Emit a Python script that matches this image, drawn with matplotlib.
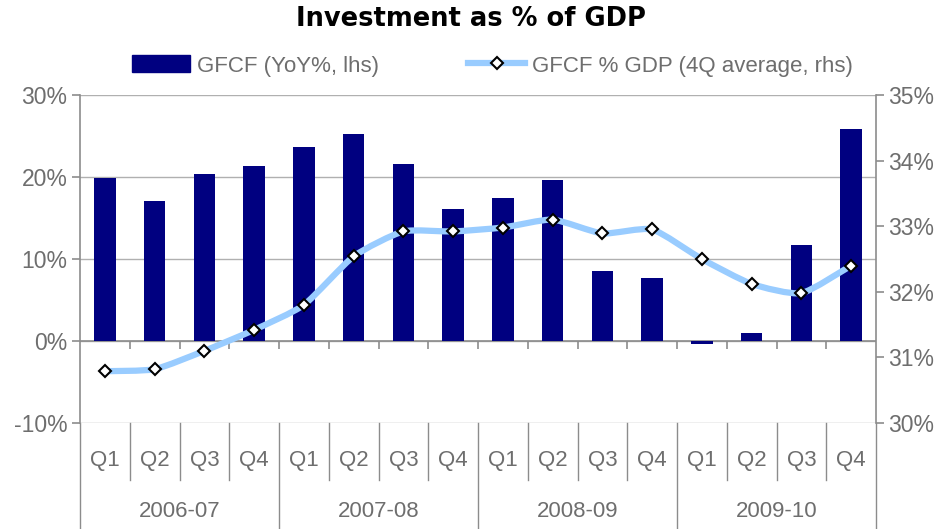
import matplotlib
matplotlib.use("Agg")
import matplotlib.pyplot as plt
from matplotlib.lines import Line2D
from matplotlib.patches import Patch, PathPatch
from matplotlib.path import Path
from matplotlib.ticker import FuncFormatter

quarters = ["Q1", "Q2", "Q3", "Q4"] * 4
years = ["2006-07", "2007-08", "2008-09", "2009-10"]
gfcf_yoy = [19.9, 17.1, 20.4, 21.4, 23.6, 25.3, 21.6, 16.1,
            17.4, 19.6, 8.5, 7.7, -0.4, 1.0, 11.7, 25.8]
gfcf_gdp = [30.79, 30.82, 31.10, 31.42, 31.80, 32.54, 32.92, 32.92,
            32.98, 33.10, 32.89, 32.95, 32.50, 32.12, 31.98, 32.40]

NAVY = "#000080"
LINE = "#99CCFF"
GREY_TXT = "#6e6e6e"
GREY_AX = "#8c8c8c"

plt.rcParams["font.family"] = ["Liberation Sans", "DejaVu Sans"]

fig = plt.figure(figsize=(9.42, 5.29), dpi=100)
ax = fig.add_axes([80 / 942, 1 - 423 / 529, 796 / 942, 328 / 529])
ax2 = ax.twinx()

n = len(gfcf_yoy)
xs = list(range(n))
ax.bar(xs, gfcf_yoy, width=0.43, color=NAVY, zorder=3)
ax.set_xlim(-0.5, n - 0.5)
ax.set_ylim(-10, 30)
ax.set_yticks([-10, 0, 10, 20, 30])
ax.yaxis.set_major_formatter(FuncFormatter(lambda v, _: f"{v:.0f}%"))
ax.grid(axis="y", color="#b0b0b0", lw=1.0, zorder=0)
ax.set_axisbelow(True)
ax.axhline(0, color=GREY_AX, lw=1.2, zorder=2)

# boundary ticks under the 0% line
bounds = [i - 0.5 for i in range(n + 1)]
ax.vlines(bounds[1:-1], -1.0, 0, color=GREY_AX, lw=1.2, zorder=2)

# two-level category labels below the plot
ax.set_xticks([])
xt = ax.get_xaxis_transform()
for i, b in enumerate(bounds):
    bottom = -0.33 if i % 4 == 0 else -0.175
    ax.plot([b, b], [0, bottom], transform=xt, color=GREY_AX, lw=1.0,
            clip_on=False)
for x, q in zip(xs, quarters):
    ax.text(x, -0.113, q, transform=xt, ha="center", va="center",
            fontsize=16, color=GREY_TXT)
for k, yr in enumerate(years):
    ax.text(4 * k + 1.5, -0.271, yr, transform=xt, ha="center", va="center",
            fontsize=16, color=GREY_TXT)

for side in ("top", "bottom"):
    ax.spines[side].set_visible(False)
    ax2.spines[side].set_visible(False)
for a, side in ((ax, "left"), (ax2, "right")):
    a.spines[side].set_color(GREY_AX)
    a.spines[side].set_linewidth(1.2)
ax.spines["right"].set_visible(False)
ax2.spines["left"].set_visible(False)
ax.tick_params(axis="y", length=6, width=1.2, color=GREY_AX, pad=3,
               labelsize=16.5, labelcolor=GREY_TXT)

ax2.set_ylim(30, 35)
ax2.set_yticks([30, 31, 32, 33, 34, 35])
ax2.yaxis.set_major_formatter(FuncFormatter(lambda v, _: f"{v:.0f}%"))
ax2.tick_params(axis="y", length=6, width=1.2, color=GREY_AX, pad=3,
                labelsize=16.5, labelcolor=GREY_TXT)

# gently smoothed line through the points (cubic Bezier segments)
tension = 1 / 10
pts = list(zip(xs, gfcf_gdp))
verts = [pts[0]]
codes = [Path.MOVETO]
for i in range(n - 1):
    p0 = pts[i - 1] if i > 0 else pts[i]
    p1 = pts[i]
    p2 = pts[i + 1]
    p3 = pts[i + 2] if i + 2 < n else pts[i + 1]
    c1 = (p1[0] + (p2[0] - p0[0]) * tension, p1[1] + (p2[1] - p0[1]) * tension)
    c2 = (p2[0] - (p3[0] - p1[0]) * tension, p2[1] - (p3[1] - p1[1]) * tension)
    verts += [c1, c2, p2]
    codes += [Path.CURVE4] * 3
ax2.add_patch(PathPatch(Path(verts, codes), facecolor="none", edgecolor=LINE,
                        lw=4.5, capstyle="round", joinstyle="round", zorder=4))
ax2.plot(xs, gfcf_gdp, ls="none", marker="D", markersize=6.5,
         markerfacecolor="white", markeredgecolor="black",
         markeredgewidth=1.5, zorder=5)

fig.text(0.5, 1 - 19 / 529, "Investment as % of GDP", ha="center",
         va="center", fontsize=18.5, fontweight="bold", family="DejaVu Sans")

handles = [
    Patch(facecolor=NAVY, edgecolor=NAVY),
    Line2D([], [], color=LINE, lw=4.5, marker="D", markersize=6.5,
           markerfacecolor="white", markeredgecolor="black",
           markeredgewidth=1.5),
]
fig.legend(handles, ["GFCF (YoY%, lhs)", "GFCF % GDP (4Q average, rhs)"],
           loc="center", bbox_to_anchor=(0.523, 1 - 66 / 529), ncol=2,
           frameon=False, fontsize=16, labelcolor=GREY_TXT,
           handlelength=2.6, handleheight=0.8, handletextpad=0.3,
           columnspacing=4.0)

fig.savefig("out.png", dpi=100)
